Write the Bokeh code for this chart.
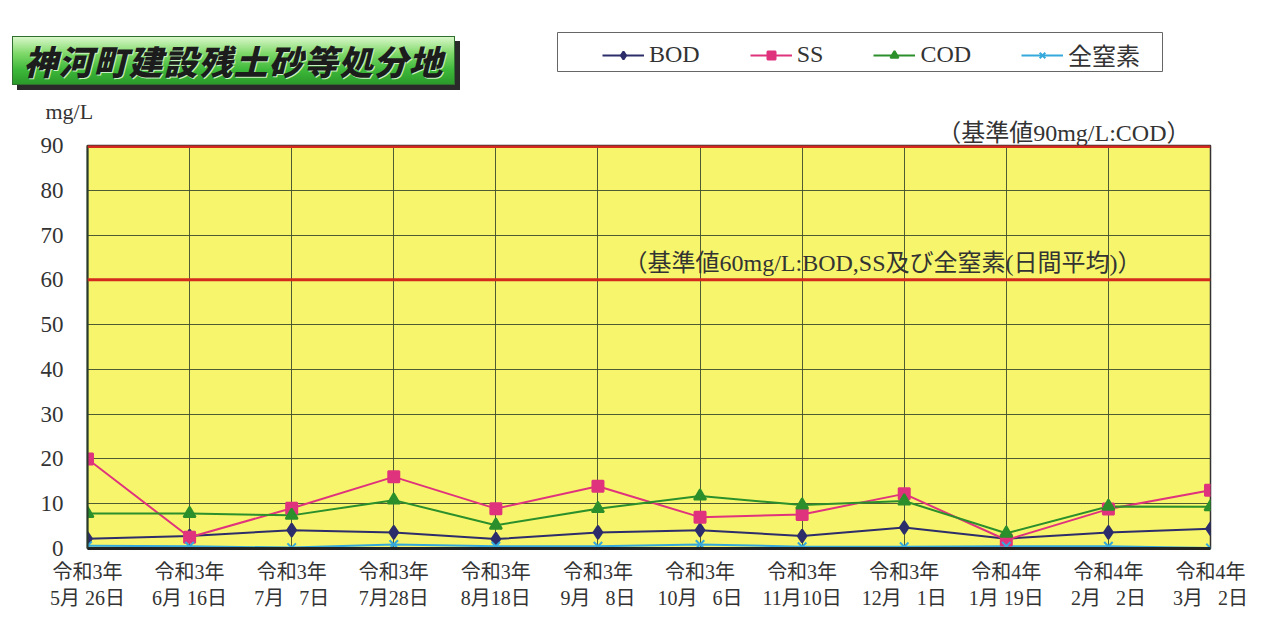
from bokeh.plotting import figure
from bokeh.models import Range1d, FixedTicker, Span, Label, Legend, LegendItem, Div, ColumnDataSource, Title
from bokeh.layouts import column, row
from bokeh.embed import file_html
from bokeh.resources import INLINE

# ---------------- data ----------------
title_text = "神河町建設残土砂等処分地"
year_labels = ["令和3年"] * 9 + ["令和4年"] * 3
day_labels = ["5月\u00a026日", "6月\u00a016日", "7月\u00a0\u20077日", "7月28日", "8月18日", "9月\u00a0\u20078日",
              "10月\u00a0\u20076日", "11月10日", "12月\u00a0\u20071日", "1月\u00a019日", "2月\u00a0\u20072日", "3月\u00a0\u20072日"]
bod = [2.2, 2.8, 4.1, 3.6, 2.1, 3.6, 4.1, 2.8, 4.7, 2.2, 3.6, 4.4]
ss = [20.0, 2.5, 9.0, 16.0, 8.9, 13.9, 7.0, 7.6, 12.2, 1.9, 8.8, 13.0]
cod = [7.8, 7.8, 7.4, 10.8, 5.2, 8.9, 11.7, 9.7, 10.6, 3.4, 9.4, 9.3]
tn = [0.6, 0.5, 0.2, 0.9, 0.5, 0.5, 0.9, 0.4, 0.4, 0.5, 0.5, 0.1]
series_names = ["BOD", "SS", "COD", "全窒素"]
y_ticks = [0, 10, 20, 30, 40, 50, 60, 70, 80, 90]
standards = [60, 90]
standard_texts = ["（基準値60mg/L:BOD,SS及び全窒素(日間平均)）", "（基準値90mg/L:COD）"]
unit_text = "mg/L"

SERIF = "'Liberation Serif', 'Noto Sans CJK JP'"
styles = [
    dict(color="#2d2d6b", marker="diamond", size=13),
    dict(color="#e0337d", marker="square", size=11),
    dict(color="#2b8f2b", marker="triangle", size=12),
    dict(color="#35a9dc", marker="x", size=12),
]

xs = list(range(len(day_labels)))
src = ColumnDataSource(dict(x=xs, bod=bod, ss=ss, cod=cod, tn=tn))
cols = ["bod", "ss", "cod", "tn"]

# ---------------- title (HTML with gradient) ----------------
title_div = Div(
    text=(
        '<div style="margin-left:12px;margin-top:36px;width:443px;height:49px;'
        'background:linear-gradient(to bottom,#d9f7c9 0%,#7fd96a 35%,#3db83a 70%,#2a9a2a 100%);'
        'box-shadow:5px 5px 0 #2a2a2a;border:1px solid #2f6f2f;box-sizing:border-box;'
        "font-family:'Noto Sans CJK JP';font-weight:900;font-style:italic;font-size:34px;"
        'letter-spacing:1px;line-height:47px;text-align:center;color:#1c1c1c;white-space:nowrap;'
        'text-shadow:1px 1px 0 #c8f0c0;">' + title_text + '</div>'
    ),
    width=557, height=100, margin=(0, 0, 0, 0),
)

# ---------------- legend figure (series drawn out of its visible range) ----------------
lf = figure(width=606, height=40, x_range=Range1d(-200, -199), y_range=Range1d(-200, -199),
            toolbar_location=None, output_backend="svg", min_border=0,
            margin=(32, 0, 0, 0))
lf.axis.visible = False
lf.grid.visible = False
lf.outline_line_color = "#666666"
lf.outline_line_width = 1
items = []
for name, col, st in zip(series_names, cols, styles):
    lr = lf.line(x="x", y=col, source=src, line_color=st["color"], line_width=2)
    sr = lf.scatter(x="x", y=col, source=src, marker=st["marker"], size=st["size"],
                    fill_color=st["color"], line_color=st["color"], line_width=2)
    items.append(LegendItem(label=name, renderers=[lr, sr]))
leg = Legend(items=items, orientation="horizontal", location=(45, 0),
             border_line_alpha=0, background_fill_alpha=0, padding=0, margin=0,
             spacing=50, glyph_width=42, glyph_height=20, label_standoff=5,
             label_text_font=SERIF, label_text_font_size="24px",
             label_text_color="#333333")
lf.add_layout(leg, "center")

# ---------------- main figure ----------------
p = figure(width=1250, height=511, x_range=Range1d(0, len(xs) - 1), y_range=Range1d(0, 90),
           toolbar_location=None, output_backend="svg",
           min_border_left=87, min_border_right=40, min_border_top=45, min_border_bottom=62,
           margin=(0, 0, 0, 0))
p.background_fill_color = "#f6f56c"
p.border_fill_color = "white"
p.outline_line_color = "#333333"
p.outline_line_width = 1.5

p.title.text = unit_text
p.title.align = "left"
p.title.offset = -42
p.title.standoff = -12
p.title.text_font = SERIF
p.title.text_font_style = "normal"
p.title.text_font_size = "22px"
p.title.text_color = "#333333"
p.add_layout(Title(text=standard_texts[1], align="right", offset=20, standoff=0,
                   text_font=SERIF, text_font_style="normal", text_font_size="24px",
                   text_color="#333333"), "above")

p.xaxis.ticker = FixedTicker(ticks=xs)
p.xaxis.major_label_overrides = {i: f"{a}\n{b}" for i, (a, b) in enumerate(zip(year_labels, day_labels))}
p.xaxis.major_tick_line_color = None
p.xaxis.minor_tick_line_color = None
p.xaxis.major_label_standoff = 6
p.xaxis.major_label_text_font = SERIF
p.xaxis.major_label_text_font_size = "20px"
p.xaxis.major_label_text_color = "#333333"
p.xaxis.major_label_text_line_height = 1.2
p.xaxis.axis_line_color = "#222222"
p.xaxis.axis_line_width = 3

p.yaxis.ticker = FixedTicker(ticks=y_ticks)
p.yaxis.major_tick_line_color = None
p.yaxis.minor_tick_line_color = None
p.yaxis.major_label_standoff = 18
p.yaxis.major_label_text_font = SERIF
p.yaxis.major_label_text_font_size = "23px"
p.yaxis.major_label_text_color = "#333333"
p.yaxis.axis_line_color = "#2a3a2a"
p.yaxis.axis_line_width = 2

p.xgrid.ticker = FixedTicker(ticks=xs)
p.ygrid.ticker = FixedTicker(ticks=y_ticks)
p.grid.grid_line_color = "#3d4a2e"
p.grid.grid_line_width = 1
p.grid.grid_line_alpha = 0.9

for s_val in standards:
    p.add_layout(Span(location=s_val, dimension="width", line_color="#d42a1e",
                      line_width=3 if s_val < 90 else 5))

for col, st in zip(cols, styles):
    p.line(x="x", y=col, source=src, line_color=st["color"], line_width=2)
for col, st in zip(cols, styles):
    p.scatter(x="x", y=col, source=src, marker=st["marker"], size=st["size"],
              fill_color=st["color"], line_color=st["color"], line_width=2)

p.add_layout(Label(x=len(xs) - 1, y=standards[0], x_offset=-69, y_offset=4, text=standard_texts[0],
                   text_align="right", text_baseline="bottom",
                   text_font=SERIF, text_font_size="24px", text_color="#333333"))

layout = column(row(title_div, lf, margin=(0, 0, 0, 0)), p, margin=(0, 0, 0, 0))
open("out.html", "w").write(file_html(layout, INLINE))
